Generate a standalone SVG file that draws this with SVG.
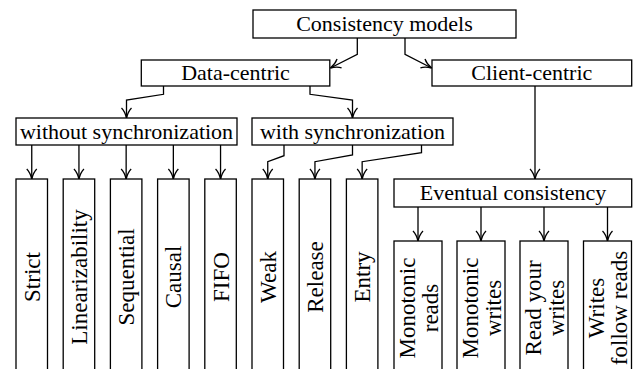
<svg xmlns="http://www.w3.org/2000/svg" width="633" height="369" viewBox="0 0 633 369">
<style>
.box{fill:#fff;stroke:#000;stroke-width:1.3}
.c{fill:none;stroke:#000;stroke-width:1.3;marker-end:url(#arr)}
text{font-family:"Liberation Serif","Times New Roman",serif;font-size:22px;fill:#000;text-anchor:middle}
.v{font-size:23px}
</style>
<defs>
<marker id="arr" markerUnits="userSpaceOnUse" viewBox="-12 -7 14 14" markerWidth="14" markerHeight="14" refX="0" refY="0" orient="auto" overflow="visible">
<path d="M-10,-5 C-7,-2 -2,-0.5 0,0 C-2,0.5 -7,2 -10,5" fill="none" stroke="#000" stroke-width="1.3"/>
</marker>
</defs>
<rect width="633" height="369" fill="#fff"/>
<g id="connectors">
<path class="c" d="M357.3,38 V54.3 L330.4,68"/>
<path class="c" d="M405,38 V54.3 L431.6,68"/>
<path class="c" d="M163.5,86 V94.3 L126.5,100 V118"/>
<path class="c" d="M310,86 V94.3 L352.5,100 V118"/>
<path class="c" d="M535,86 V179"/>
<path class="c" d="M31.75,145 V179"/>
<path class="c" d="M78.95,145 V179"/>
<path class="c" d="M126.15,145 V179"/>
<path class="c" d="M173.35,145 V179"/>
<path class="c" d="M220.55,145 V179"/>
<path class="c" d="M284,145 V155.7 L267.75,161.7 V179"/>
<path class="c" d="M352.5,145 V155 L314.95,161.7 V179"/>
<path class="c" d="M421.5,145 V152.7 L362.15,161.7 V179"/>
<path class="c" d="M418,207 V241"/>
<path class="c" d="M481,207 V241"/>
<path class="c" d="M544,207 V241"/>
<path class="c" d="M607.5,207 V241"/>
</g>
<g id="consistency-models"><rect class="box" x="253" y="10" width="263" height="28"/><text x="384.5" y="31.3">Consistency models</text></g>
<g id="data-centric"><rect class="box" x="141.3" y="60" width="188.5" height="26"/><text x="235.5" y="80.3">Data-centric</text></g>
<g id="client-centric"><rect class="box" x="432" y="60" width="199.7" height="26"/><text x="531.8" y="80.3">Client-centric</text></g>
<g id="without-sync"><rect class="box" x="16" y="118" width="221" height="27"/><text x="126.5" y="138.8">without synchronization</text></g>
<g id="with-sync"><rect class="box" x="252" y="118" width="201" height="27"/><text x="352.5" y="138.8">with synchronization</text></g>
<g id="eventual"><rect class="box" x="394" y="179" width="237.7" height="28"/><text x="513" y="200.3">Eventual consistency</text></g>
<g id="strict"><rect class="box" x="16" y="179" width="31.5" height="210"/><text class="v" transform="translate(39.75,277) rotate(-90)">Strict</text></g>
<g id="linearizability"><rect class="box" x="63.2" y="179" width="31.5" height="210"/><text class="v" transform="translate(86.95,277) rotate(-90)">Linearizability</text></g>
<g id="sequential"><rect class="box" x="110.4" y="179" width="31.5" height="210"/><text class="v" transform="translate(134.15,277) rotate(-90)">Sequential</text></g>
<g id="causal"><rect class="box" x="157.6" y="179" width="31.5" height="210"/><text class="v" transform="translate(181.35,277) rotate(-90)">Causal</text></g>
<g id="fifo"><rect class="box" x="204.8" y="179" width="31.5" height="210"/><text class="v" transform="translate(228.55,277) rotate(-90)">FIFO</text></g>
<g id="weak"><rect class="box" x="252" y="179" width="31.5" height="210"/><text class="v" transform="translate(275.75,277) rotate(-90)">Weak</text></g>
<g id="release"><rect class="box" x="299.2" y="179" width="31.5" height="210"/><text class="v" transform="translate(322.95,277) rotate(-90)">Release</text></g>
<g id="entry"><rect class="box" x="346.4" y="179" width="31.5" height="210"/><text class="v" transform="translate(370.15,277) rotate(-90)">Entry</text></g>
<g id="monotonic-reads"><rect class="box" x="394" y="241" width="48" height="150"/><text class="v" transform="translate(418,308) rotate(-90)"><tspan x="0" y="-3.5">Monotonic</tspan><tspan x="0" y="19.5">reads</tspan></text></g>
<g id="monotonic-writes"><rect class="box" x="457" y="241" width="48" height="150"/><text class="v" transform="translate(481,308) rotate(-90)"><tspan x="0" y="-3.5">Monotonic</tspan><tspan x="0" y="19.5">writes</tspan></text></g>
<g id="read-your-writes"><rect class="box" x="520" y="241" width="48" height="150"/><text class="v" transform="translate(544,308) rotate(-90)"><tspan x="0" y="-3.5">Read your</tspan><tspan x="0" y="19.5">writes</tspan></text></g>
<g id="writes-follow-reads"><rect class="box" x="583.5" y="241" width="48" height="150"/><text class="v" transform="translate(607.5,308) rotate(-90)"><tspan x="0" y="-3.5">Writes</tspan><tspan x="0" y="19.5">follow reads</tspan></text></g>
</svg>
